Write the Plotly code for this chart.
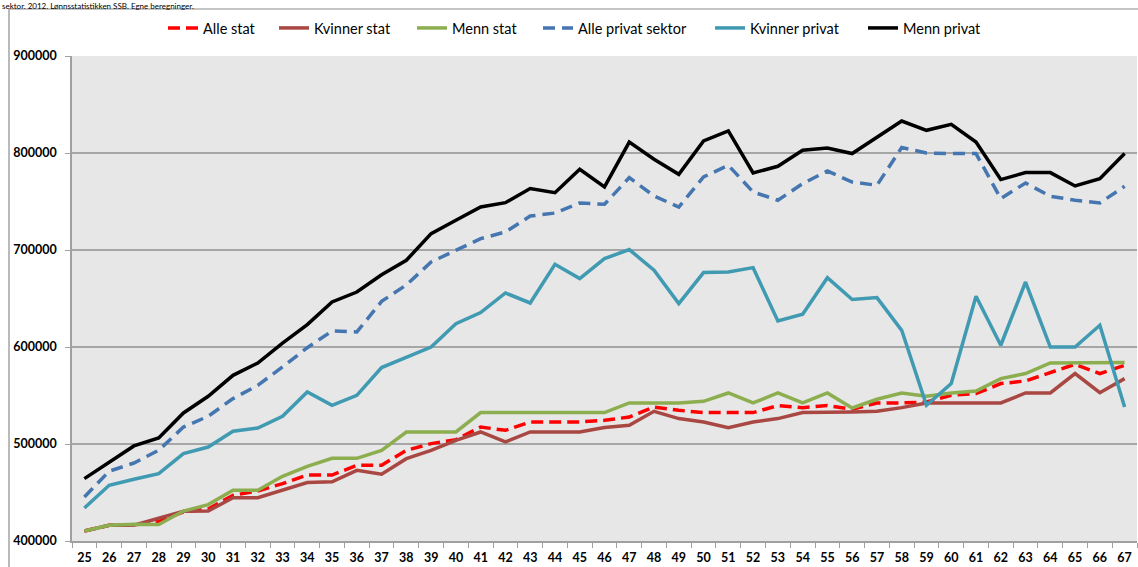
import plotly.graph_objects as go

ages = [str(a) for a in range(25, 68)]

alle_stat = [410300, 416200, 416500, 420000, 430000, 433000, 447100, 451500, 459200, 468000,
             468000, 478000, 478000, 493500, 500400, 504500, 517500, 514100, 522700, 522700,
             522700, 524400, 527800, 538100, 534700, 532400, 532400, 532400, 539600, 537500,
             539600, 535800, 542300, 542300, 543300, 550200, 552000, 562300, 565000, 573200,
             582200, 572600, 581100]

kvinner_stat = [410300, 416200, 416200, 423100, 430600, 430900, 444700, 444700, 452300, 460200,
                461000, 472900, 468800, 484900, 493500, 503800, 512400, 502100, 512400, 512400,
                512400, 516900, 519300, 533700, 526200, 522700, 516900, 522700, 526200, 532400,
                532400, 533000, 533700, 537500, 542300, 542300, 542300, 542300, 552600, 552600,
                572600, 552900, 567400]

menn_stat = [410300, 416200, 417200, 416900, 430900, 437500, 452300, 452300, 466700, 477000,
             485200, 485200, 493500, 512400, 512400, 512400, 532400, 532400, 532400, 532400,
             532400, 532400, 542300, 542300, 542300, 544000, 552600, 542300, 552600, 542300,
             552600, 537100, 546100, 552600, 549200, 552600, 554600, 567400, 572600, 583500,
             583500, 583500, 584000]

alle_privat = [445400, 471900, 480400, 493500, 517500, 528600, 546800, 560500, 579400, 599300,
               616500, 615500, 647000, 664000, 687600, 699700, 711700, 718600, 735000, 738100,
               748500, 747100, 774600, 755700, 744300, 775300, 787300, 759800, 751300, 768400,
               781400, 770100, 766700, 805600, 800000, 799400, 799400, 753000, 769100, 755400,
               751300, 748500, 765700]

kvinner_privat = [434000, 457400, 463600, 469500, 490100, 496900, 513100, 516500, 528600, 553600,
                  539900, 550200, 578800, 589000, 600000, 624100, 635500, 655700, 645400, 685300,
                  670500, 691100, 700400, 679100, 644700, 676700, 677300, 681800, 626800, 633700,
                  671500, 648900, 650900, 617200, 539900, 562300, 652300, 601800, 667000, 600000,
                  600000, 622400, 538100]

menn_privat = [464300, 481400, 498000, 506200, 532000, 549200, 570800, 583500, 604100, 623100,
               646400, 656700, 674500, 689400, 716900, 730600, 744300, 748800, 763300, 759100,
               783200, 765000, 811300, 793500, 778000, 812400, 822700, 779400, 786300, 802800,
               805200, 799400, 816500, 833000, 823400, 829600, 811300, 772600, 779800, 779800,
               766000, 773600, 799400]

y_ticks = [400000, 500000, 600000, 700000, 800000, 900000]
title_text = "sektor. 2012. Lønnsstatistikken SSB. Egne beregninger."

series = [
    ("Alle stat", alle_stat, "#ff0000", "12px,6px"),
    ("Kvinner stat", kvinner_stat, "#a94743", "solid"),
    ("Menn stat", menn_stat, "#8cae4f", "solid"),
    ("Alle privat sektor", alle_privat, "#4676b0", "12px,7px"),
    ("Kvinner privat", kvinner_privat, "#3f9ab2", "solid"),
    ("Menn privat", menn_privat, "#000000", "solid"),
]

W, H = 1138, 567
ml, mr, mt, mb = 72, 1, 56, 26
pw, ph = W - ml - mr, H - mt - mb

# legend symbol start positions (pixels) in the reference
legend_px = [170, 281, 419, 545, 717, 870]

fig = go.Figure()
legend_layouts = {}
for i, (name, vals, color, dash) in enumerate(series):
    lname = "legend" if i == 0 else f"legend{i + 1}"
    fig.add_trace(go.Scatter(x=ages, y=vals, name=name, mode="lines", legend=lname,
                             line=dict(color=color, width=3.5, dash=dash)))
    legend_layouts[lname] = dict(orientation="h", xref="container", yref="container",
                                 x=(legend_px[i] - 7) / W, xanchor="left",
                                 y=1 - 28 / H, yanchor="middle",
                                 font=dict(size=14.5, family="Lato, sans-serif", color="#000000"),
                                 bgcolor="rgba(0,0,0,0)", borderwidth=0)


def px_x(p):
    return (p - ml) / pw


def px_y(p):
    return (H - mb - p) / ph


fig.update_layout(
    width=W, height=H,
    margin=dict(l=ml, r=mr, t=mt, b=mb),
    paper_bgcolor="white",
    plot_bgcolor="#e7e7e7",
    font=dict(family="Lato, Open Sans, sans-serif", color="#000000"),
    xaxis=dict(type="category", tickson="boundaries", ticks="outside", ticklen=5,
               tickcolor="#a0a0a0", showline=True, linecolor="#a0a0a0", linewidth=1.5,
               showgrid=False, ticklabelstandoff=4,
               tickfont=dict(size=12.5, family="Lato", weight="bold"),
               range=[-0.5, len(ages) - 0.5]),
    yaxis=dict(range=[400000, 900000], tickvals=y_ticks, ticktext=[str(v) for v in y_ticks],
               ticks="outside", ticklen=5, tickcolor="#a0a0a0",
               showline=True, linecolor="#a0a0a0", linewidth=1.5, ticklabelstandoff=6,
               showgrid=True, gridcolor="#a6a6a6", gridwidth=1.5, zeroline=False,
               tickfont=dict(size=12.5, family="Lato", weight="bold")),
    showlegend=True,
    **legend_layouts,
)

# chart area border (left and top)
fig.add_shape(type="line", xref="paper", yref="paper", layer="above",
              x0=px_x(9), x1=px_x(9), y0=px_y(9), y1=px_y(H + 5),
              line=dict(color="#8c8c8c", width=1.2))
fig.add_shape(type="line", xref="paper", yref="paper", layer="above",
              x0=px_x(9), x1=px_x(W + 5), y0=px_y(9), y1=px_y(9),
              line=dict(color="#8c8c8c", width=1.2))

# title line above the chart area
fig.add_annotation(text=title_text, xref="paper", yref="paper", x=px_x(1), y=px_y(0),
                   xanchor="left", yanchor="top", showarrow=False, borderpad=0,
                   font=dict(size=8, family="Lato, sans-serif", color="#000000"))

fig.write_html("out.html", config={"displayModeBar": False},
               post_script="document.body.style.margin='0';")
